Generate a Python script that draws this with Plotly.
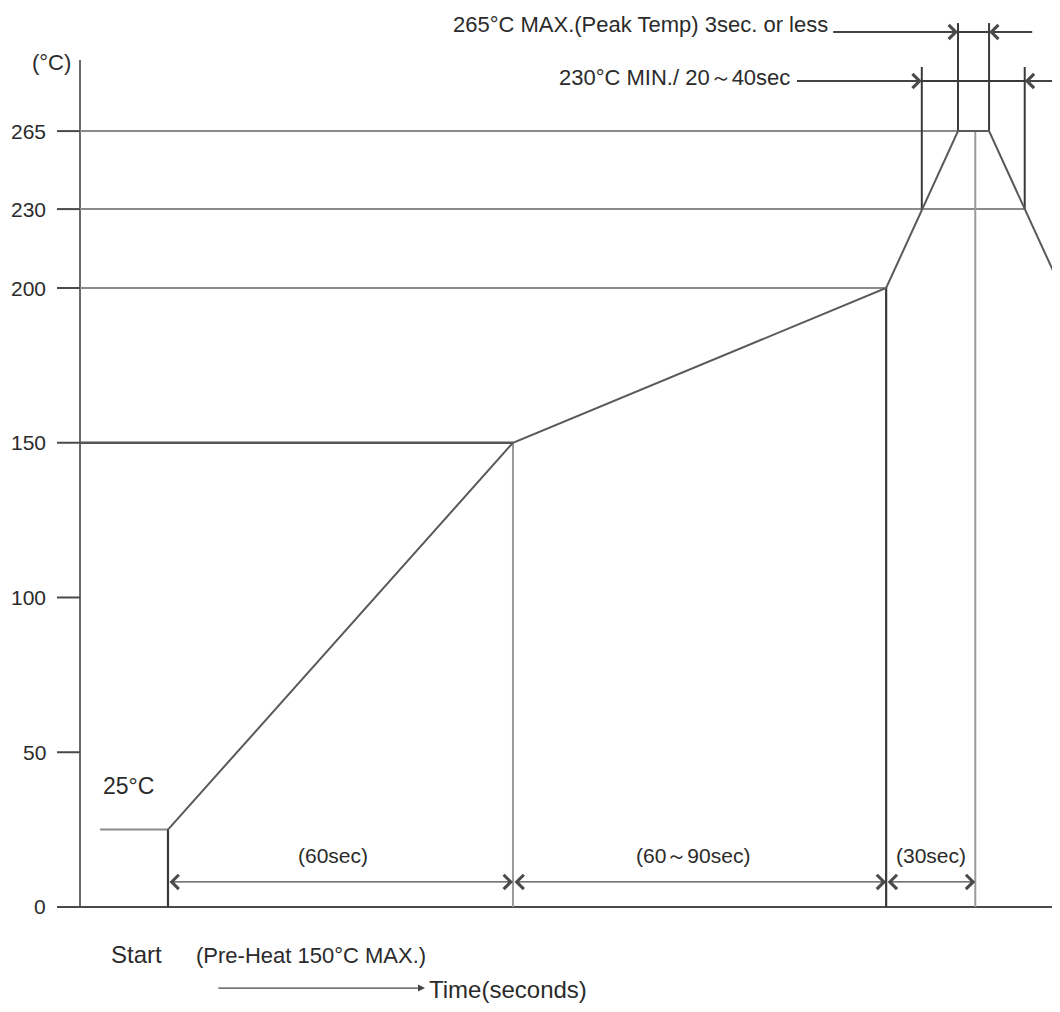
import numpy as np
import plotly.graph_objects as go

# ---------------- data ----------------
temp_ticks = [0, 50, 100, 150, 200, 230, 265]
temp_tick_labels = ["0", "50", "100", "150", "200", "230", "265"]

# reflow profile (time in schematic seconds, temperature in °C)
profile_time = [15.3, 75.3, 140.2, 152.7, 158.1, 170.6]
profile_temp = [25, 150, 200, 265, 265, 200]

initial_time = [3.5, 15.3]
initial_temp = [25, 25]

# phase boundaries (schematic time)
t_start = 15.3
t_preheat_end = 75.3
t_soak_end = 140.2
t_above230_in = 146.4
t_peak_in = 152.7
t_reflow30_end = 155.7
t_peak_out = 158.1
t_above230_out = 164.3

phase_labels = ["(60sec)", "(60～90sec)", "(30sec)"]
phase_start = [t_start, t_preheat_end, t_soak_end]
phase_end = [t_preheat_end, t_soak_end, t_reflow30_end]

# schematic (non-linear) vertical scale of the drawing
scale_temp = [0, 200, 230, 265, 300]
scale_pos = [0, 200, 225.5, 250.7, 275.8]


def ty(t):
    return np.interp(t, scale_temp, scale_pos)


# ---------------- styles ----------------
FONT = "Liberation Sans, Arial, sans-serif"
TXT = "#2b2b2b"
DARK = "#3a3a3a"
MID = "#5a5a5a"
GUIDE = "#8a8a8a"
LIGHT = "#9a9a9a"

fig = go.Figure()


def seg(xs, ys, color, width=2):
    fig.add_trace(go.Scatter(x=list(xs), y=list(ys), mode="lines",
                             line=dict(color=color, width=width),
                             hoverinfo="skip", showlegend=False))


def arrow(x_head, y_head, x_tail, y_tail, color="#4a4a4a", both=False,
          head=4, size=2.3, width=1.2):
    fig.add_annotation(x=x_head, y=y_head, ax=x_tail, ay=y_tail,
                       xref="x", yref="y", axref="x", ayref="y",
                       text="", showarrow=True, arrowhead=head,
                       arrowsize=size, arrowwidth=width, arrowcolor=color,
                       arrowside="end+start" if both else "end",
                       startarrowhead=head, startarrowsize=size,
                       standoff=0, startstandoff=0)


def label(x, y, text, size=21, xanchor="center", yanchor="middle", xshift=0):
    fig.add_annotation(x=x, y=y, xref="x", yref="y", text=text, showarrow=False,
                       font=dict(family=FONT, size=size, color=TXT),
                       xanchor=xanchor, yanchor=yanchor, xshift=xshift)


# layout positions (schematic units)
Y_AXIS_TOP = 273.7
X_AXIS_END = 169.6
TICK_LEN = 4.0
DIM_Y = 8.1
DIM_TXT_Y = 16.5
TOP1_Y = 282.7
TOP1_V = 285.6
TOP2_Y = 266.9
TOP2_V = 271.4

# ---- axes ----
seg([0, 0], [0, Y_AXIS_TOP], "#6a6a6a", 2)
seg([0, X_AXIS_END], [0, 0], "#4a4a4a", 2.2)
for t, lab in zip(temp_ticks, temp_tick_labels):
    seg([-TICK_LEN, 0], [ty(t), ty(t)], "#4a4a4a", 2)
    label(-5.6, ty(t), lab, size=21, xanchor="right")
label(-5.0, 273.0, "(°C)", size=22)

# ---- guide lines ----
seg([0, t_peak_out], [ty(265), ty(265)], GUIDE, 2)
seg([0, t_above230_out], [ty(230), ty(230)], GUIDE, 2)
seg([0, t_soak_end], [ty(200), ty(200)], GUIDE, 2)
seg([0, t_preheat_end], [ty(150), ty(150)], "#555555", 2.6)
seg(initial_time, ty(initial_temp), GUIDE, 2)

seg([t_start, t_start], [0, ty(25)], DARK, 2.2)
seg([t_preheat_end, t_preheat_end], [0, ty(150)], LIGHT, 2)
seg([t_soak_end, t_soak_end], [0, ty(200)], DARK, 2.2)
seg([t_reflow30_end, t_reflow30_end], [0, ty(265)], LIGHT, 2)

seg([t_above230_in, t_above230_in], [ty(230), TOP2_V], DARK, 2)
seg([t_above230_out, t_above230_out], [ty(230), TOP2_V], DARK, 2)
seg([t_peak_in, t_peak_in], [ty(265), TOP1_V], DARK, 2)
seg([t_peak_out, t_peak_out], [ty(265), TOP1_V], DARK, 2)

# ---- profile ----
seg(profile_time, ty(profile_temp), MID, 2)

# ---- phase dimension arrows ----
for a, b, lab in zip(phase_start, phase_end, phase_labels):
    arrow(b, DIM_Y, a, DIM_Y, both=True)
    label((a + b) / 2, DIM_TXT_Y, lab, size=21,
          xshift=-7 if lab != "(30sec)" else 0)

label(8.4, 39.1, "25°C", size=23)

# ---- top callouts ----
seg([131.0, 165.6], [TOP1_Y, TOP1_Y], DARK, 2)
arrow(t_peak_in, TOP1_Y, 131.0, TOP1_Y)
arrow(t_peak_out, TOP1_Y, 165.6, TOP1_Y)
label(130.4, 285.0, "265°C MAX.(Peak Temp) 3sec. or less", size=22, xanchor="right")

seg([124.7, 172.0], [TOP2_Y, TOP2_Y], DARK, 2)
arrow(t_above230_in, TOP2_Y, 124.7, TOP2_Y)
arrow(t_above230_out, TOP2_Y, 172.0, TOP2_Y)
label(123.8, 267.9, "230°C MIN./ 20～40sec", size=22, xanchor="right")

# ---- bottom texts ----
label(9.8, -15.5, "Start", size=24)
label(40.2, -15.8, "(Pre-Heat 150°C MAX.)", size=22)
arrow(60.0, -26.2, 23.8, -26.2, color="#444444", head=2, size=1.0, width=1.4)
label(60.4, -26.8, "Time(seconds)", size=24, xanchor="left")

# the page adds an 8 px body margin, so the figure is 8 px smaller and
# its ranges start 8 px into the drawing
fig.update_layout(
    width=1052, height=1004,
    margin=dict(l=0, r=0, t=0, b=0),
    paper_bgcolor="white", plot_bgcolor="white",
    showlegend=False,
    xaxis=dict(range=[-12.522, 170.435], visible=False, fixedrange=True),
    yaxis=dict(range=[-33.93, 290.47], visible=False, fixedrange=True),
)

fig.write_html("out.html")
